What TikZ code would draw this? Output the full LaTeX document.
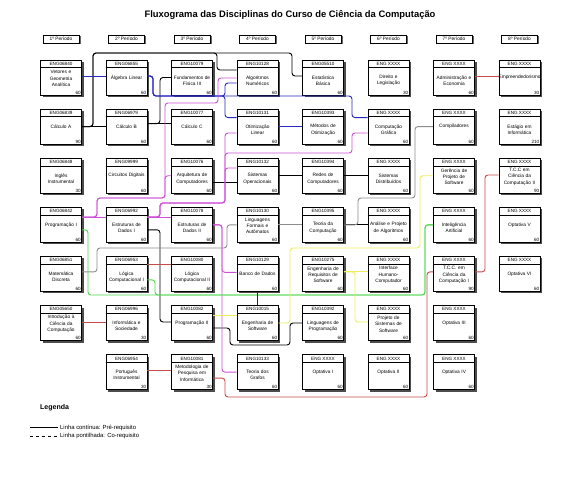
\documentclass[tikz,border=0pt]{standalone}
\usepackage{fontspec}
\setmainfont{Liberation Sans}
\usetikzlibrary{calc}
\definecolor{cblue}{RGB}{40,40,190}
\definecolor{cmag}{RGB}{205,80,215}
\definecolor{cgreen}{RGB}{80,215,80}
\definecolor{cred}{RGB}{200,75,75}
\definecolor{cyel}{RGB}{238,238,90}
\definecolor{cgray}{RGB}{140,140,140}
\definecolor{cnavy}{RGB}{30,30,120}
\tikzset{
 conn/.style={line width=0.9pt, rounded corners=3pt},
 coursebox/.style={draw, fill=white, line width=0.6pt, minimum width=41pt, minimum height=35pt, inner sep=0pt},
 codet/.style={font=\fontsize{4.6}{5}\selectfont, inner sep=0pt},
 titlet/.style={font=\fontsize{4.8}{6.3}\selectfont, align=center, text width=42pt, inner sep=0pt},
 hourt/.style={font=\fontsize{4.6}{5}\selectfont, inner sep=0.9pt, anchor=south east},
 hdr/.style={draw, fill=white, line width=0.6pt, minimum width=36pt, minimum height=8pt, inner sep=0pt, font=\fontsize{4.8}{5}\selectfont},
 legtext/.style={font=\fontsize{5.9}{7}\selectfont, anchor=west, inner sep=0pt},
}
\newcommand\coursenode[7]{%
 \pgfmathsetmacro\cx{61+65.5*(#2-1)}%
 \pgfmathsetmacro\cy{77.5+49.1*(#3-1)}%
 \fill[black!70] (\cx-18.5,\cy-15.5) rectangle (\cx+22.5,\cy+19.5);
 \node[coursebox] (#1) at (\cx,\cy) {};
 \draw[line width=0.6pt] ($(#1.north west)+(0,8)$) -- ($(#1.north east)+(0,8)$);
 \node[codet] at ($(#1.north)+(0,4.2)$) {#4};
 \node[titlet] at ($(#1.center)+(0,#7)$) {#5};
 \node[hourt] at (#1.south east) {#6};
}
\newcommand\periodhdr[2]{%
 \pgfmathsetmacro\cx{61+65.5*(#1-1)}%
 \fill[black!60] (\cx-17,36) rectangle (\cx+19.5,44.5);
 \node[hdr] (h#1) at (\cx,39) {#2};
}
\begin{document}
\begin{tikzpicture}[x=1pt,y=-1pt]
\fill[white] (0,0) rectangle (580,489);
\useasboundingbox (0,0) rectangle (580,489);
\node[font=\bfseries\fontsize{9.4}{10}\selectfont] (title) at (290,15) {Fluxograma das Disciplinas do Curso de Ciência da Computação};
\periodhdr{1}{1º Período}
\periodhdr{2}{2º Período}
\periodhdr{3}{3º Período}
\periodhdr{4}{4º Período}
\periodhdr{5}{5º Período}
\periodhdr{6}{6º Período}
\periodhdr{7}{7º Período}
\periodhdr{8}{8º Período}

% column 1
\coursenode{vga}{1}{1}{ENG06840}{Vetores e\\Geometria\\Analítica}{60}{1}
\coursenode{calcA}{1}{2}{ENG06839}{Cálculo A}{90}{0}
\coursenode{ingles}{1}{3}{ENG06848}{Inglês\\Instrumental}{30}{3}
\coursenode{prog1}{1}{4}{ENG06842}{Programação I}{60}{0}
\coursenode{matdisc}{1}{5}{ENG06851}{Matemática\\Discreta}{60}{3}
\coursenode{intro}{1}{6}{ENG05650}{Introdução à\\Ciência da\\Computação}{60}{1}
% column 2
\coursenode{alglin}{2}{1}{ENG06855}{Álgebra Linear}{60}{0.5}
\coursenode{calcB}{2}{2}{ENG06979}{Cálculo B}{60}{0}
\coursenode{circ}{2}{3}{ENG09999}{Circuitos Digitais}{60}{0}
\coursenode{ed1}{2}{4}{ENG06992}{Estruturas de\\Dados I}{60}{3}
\coursenode{logic1}{2}{5}{ENG06953}{Lógica\\Computacional I}{60}{3}
\coursenode{infsoc}{2}{6}{ENG06996}{Informática e\\Sociedade}{30}{3}
\coursenode{port}{2}{7}{ENG06954}{Português\\Instrumental}{30}{3}
% column 3
\coursenode{fis3}{3}{1}{ENG10079}{Fundamentos de\\Física III}{60}{3}
\coursenode{calcC}{3}{2}{ENG10077}{Cálculo C}{60}{0}
\coursenode{arq}{3}{3}{ENG10076}{Arquitetura de\\Computadores}{60}{3}
\coursenode{ed2}{3}{4}{ENG10078}{Estruturas de\\Dados II}{60}{3}
\coursenode{logic2}{3}{5}{ENG10080}{Lógica\\Computacional II}{60}{3}
\coursenode{prog2}{3}{6}{ENG10082}{Programação II}{60}{0}
\coursenode{metod}{3}{7}{ENG10081}{Metodologia de\\Pesquisa em\\Informática}{30}{1}
% column 4
\coursenode{algnum}{4}{1}{ENG10128}{Algoritmos\\Numéricos}{60}{3}
\coursenode{otim}{4}{2}{ENG10131}{Otimização\\Linear}{60}{3}
\coursenode{so}{4}{3}{ENG10132}{Sistemas\\Operacionais}{60}{3}
\coursenode{lfa}{4}{4}{ENG10130}{Linguagens\\Formais e\\Autômatos}{60}{1}
\coursenode{bd}{4}{5}{ENG10129}{Banco de Dados}{60}{0}
\coursenode{es}{4}{6}{ENG10015}{Engenharia de\\Software}{60}{3}
\coursenode{grafos}{4}{7}{ENG10133}{Teoria dos\\Grafos}{60}{3}
% column 5
\coursenode{estat}{5}{1}{ENG05510}{Estatística\\Básica}{60}{3}
\coursenode{metopt}{5}{2}{ENG10393}{Métodos de\\Otimização}{60}{3}
\coursenode{redes}{5}{3}{ENG10394}{Redes de\\Computadores}{60}{3}
\coursenode{tc}{5}{4}{ENG10395}{Teoria da\\Computação}{60}{3}
\coursenode{engreq}{5}{5}{ENG10275}{Engenharia de\\Requisitos de\\Software}{60}{1}
\coursenode{lp}{5}{6}{ENG10392}{Linguagens de\\Programação}{60}{3}
\coursenode{opt1}{5}{7}{ENG XXXX}{Optativa I}{60}{0}
% column 6
\coursenode{direito}{6}{1}{ENG XXXX}{Direito e\\Legislação}{30}{3}
\coursenode{cg}{6}{2}{ENG XXXX}{Computação\\Gráfica}{60}{3}
\coursenode{sd}{6}{3}{ENG XXXX}{Sistemas\\Distribuídos}{60}{3}
\coursenode{apa}{6}{4}{ENG XXXX}{Análise e Projeto\\de Algoritmos}{60}{3}
\coursenode{ihc}{6}{5}{ENG XXXX}{Interface\\Humano-\\Computador}{60}{1}
\coursenode{pss}{6}{6}{ENG XXXX}{Projeto de\\Sistemas de\\Software}{60}{1}
\coursenode{opt2}{6}{7}{ENG XXXX}{Optativa II}{60}{0}
% column 7
\coursenode{adm}{7}{1}{ENG XXXX}{Administração e\\Economia}{60}{3}
\coursenode{comp}{7}{2}{ENG XXXX}{Compiladores}{60}{0}
\coursenode{gps}{7}{3}{ENG XXXX}{Gerência de\\Projeto de\\Software}{60}{1}
\coursenode{ia}{7}{4}{ENG XXXX}{Inteligência\\Artificial}{60}{3}
\coursenode{tcc1}{7}{5}{ENG XXXX}{T.C.C. em\\Ciência da\\Computação I}{90}{1}
\coursenode{opt3}{7}{6}{ENG XXXX}{Optativa III}{60}{0}
\coursenode{opt4}{7}{7}{ENG XXXX}{Optativa IV}{60}{0}
% column 8
\coursenode{empr}{8}{1}{ENG XXXX}{Empreendedorismo}{30}{0}
\coursenode{estagio}{8}{2}{ENG XXXX}{Estágio em\\Informática}{210}{3}
\coursenode{tcc2}{8}{3}{ENG XXXX}{T.C.C em\\Ciência da\\Computação II}{90}{1}
\coursenode{opt5}{8}{4}{ENG XXXX}{Optativa V}{60}{0}
\coursenode{opt6}{8}{5}{ENG XXXX}{Optativa VI}{60}{0}

% ---------------- connectors ----------------
% black
\draw[conn] (calcA.east) -- (calcB.west);
\draw[conn] (calcA.east) -- (93,126.6) |- (217,53) |- ($(algnum.west)+(0,-7.5)$);
\draw[conn] (calcA.east) -- (93,126.6) |- (292,53) |- ($(estat.west)+(0,-1.5)$);
\draw[conn] ($(calcB.east)+(0,-3)$) -- ($(calcC.west)+(0,-3)$);
\draw[conn] ($(calcB.east)+(0,-3)$) -- (160,123.6) |- (fis3.west);
\draw[conn] ($(arq.east)+(0,6.3)$) -- ($(so.west)+(0,6.3)$);
\draw[conn] (so.east) -- (redes.west);
\draw[conn] (redes.east) -- (sd.west);
\draw[conn] ($(ed1.east)+(0,5)$) -- (160,229.8) |- ($(prog2.west)+(0,-1)$);
\draw[conn] ($(prog2.east)+(0,5)$) -- (230,328) |- (290,345) |- (lp.west);
\draw[conn] (tc.east) -- (apa.west);
% gray
\draw[conn,cgray] (lfa.east) -- (tc.west);
\draw[conn,cgray] (tc.east) -- (358,224.8) |- (415,198) |- (comp.west);
\draw[conn,cgray] ($(matdisc.east)+(0,-2)$) -- (97,271.9) |- (227,248) |- (lfa.west);
% blue
\draw[conn,cblue] ($(vga.east)+(0,-1.5)$) -- ($(alglin.west)+(0,-1.5)$);
\draw[conn,cblue] ($(alglin.east)+(0,-1.5)$) -- (153,76) |- (225,96) |- ($(algnum.west)+(0,5.5)$);
\draw[conn,cblue] ($(alglin.east)+(0,-1.5)$) -- (153,76) |- (225,96) |- ($(otim.west)+(0,-9)$);
\draw[conn,cblue] ($(alglin.east)+(0,-1.5)$) -- (153,76) |- (352,96) |- ($(cg.west)+(0,-9)$);
\draw[conn,cblue] (otim.east) -- (metopt.west);
% magenta: Programacao I
\draw[conn,cmag] ($(prog1.east)+(0,-7.8)$) -- ($(ed1.west)+(0,-7.8)$);
\draw[conn,cmag] ($(prog1.east)+(0,-7.8)$) -- (97,217) |- (165,198) |- (218,103) |- ($(algnum.west)+(0,0.5)$);
\draw[conn,cmag] ($(prog1.east)+(0,-7.8)$) -- (97,217) |- (165,198) |- (arq.west);
% magenta: Estruturas de Dados I
\draw[conn,cmag] ($(ed1.east)+(0,-7.8)$) -- ($(ed2.west)+(0,-7.8)$);
\draw[conn,cmag] ($(ed1.east)+(0,-7.8)$) -- (160,217) |- (225,203) |- ($(otim.west)+(0,6.4)$);
\draw[conn,cmag] ($(ed1.east)+(0,-7.8)$) -- (160,217) |- (225,203) |- ($(so.west)+(0,-7.7)$);
\draw[conn,cmag] ($(ed1.east)+(0,-7.8)$) -- (160,217) |- (225,203) -- (225,153) -- (352,153) |- ($(cg.west)+(0,6.4)$);
% magenta: Estruturas de Dados II
\draw[conn,cmag] (ed2.east) -- (222,224.8) |- ($(bd.west)+(0,-1.5)$);
\draw[conn,cmag] (ed2.east) -- (222,224.8) |- (grafos.west);
% green
\draw[conn,cgreen] ($(prog1.east)+(0,5)$) -- (88,229.8) |- (425,295) |- (ia.west);
\draw[conn,cgreen] ($(logic1.east)+(0,6)$) -- (155,279.9) |- (425,295) |- (ia.west);
% red
\draw[conn,cred] ($(logic1.east)+(0,-9)$) -- ($(logic2.west)+(0,-9)$);
\draw[conn,cred] ($(intro.east)+(0,-1)$) -- ($(infsoc.west)+(0,-1)$);
\draw[conn,cred] ($(port.east)+(0,-2)$) -- ($(metod.west)+(0,-2)$);
\draw[conn,cred] ($(metod.east)+(0,6)$) -- (225,378.1) |- (427,397) |- ($(tcc1.west)+(0,-2)$);
\draw[conn,cred] ($(tcc1.east)+(0,-2)$) -- (485,271.9) |- ($(tcc2.west)+(0,-0.7)$);
\draw[conn,cred] ($(adm.east)+(0,-1.5)$) -- ($(empr.west)+(0,-1.5)$);
% navy
\draw[conn,cnavy] (bd.south) -- (es.north);
% yellow
\draw[conn,cyel] ($(prog2.east)+(0,-8)$) -- ($(es.west)+(0,-8)$);
\draw[conn,cyel] (es.east) -- (290,323) |- (420,248) |- (gps.west);
\draw[conn,cyel] ($(engreq.east)+(0,-2)$) -- ($(ihc.west)+(0,-2)$);
\draw[conn,cyel] ($(engreq.east)+(0,-2)$) -- (355,271.9) |- ($(pss.west)+(0,-1)$);

% legend
\node[font=\bfseries\fontsize{7}{8}\selectfont, anchor=west, inner sep=0pt] (legtitle) at (40,408) {Legenda};
\coordinate (l1a) at (30,427.5); \coordinate (l1b) at (58,427.5);
\coordinate (l2a) at (30,436); \coordinate (l2b) at (58,436);
\draw[line width=0.8pt] (l1a) -- (l1b);
\draw[line width=0.8pt, dashed] (l2a) -- (l2b);
\node[legtext] (leg1) at (60,427.5) {Linha contínua: Pré-requisito};
\node[legtext] (leg2) at (60,436) {Linha pontilhada: Co-requisito};
\end{tikzpicture}
\end{document}
